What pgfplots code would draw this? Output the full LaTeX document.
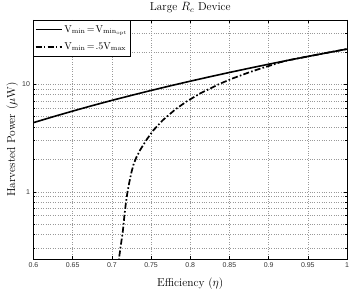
\documentclass[border=0pt]{standalone}
\usepackage{fontspec}
\usepackage{pgfplots}
\pgfplotsset{compat=1.18}
\newfontfamily\tickfont{Liberation Sans}

\begin{document}
\begin{tikzpicture}
\begin{axis}[
  scale only axis,
  width=313.5pt, height=239pt,
  xmin=0.6, xmax=1,
  ymode=log, ymin=0.237, ymax=39.5,
  xtick={0.6,0.65,0.7,0.75,0.8,0.85,0.9,0.95,1},
  xticklabels={0.6,0.65,0.7,0.75,0.8,0.85,0.9,0.95,1},
  ytick={1,10}, yticklabels={1,10},
  minor ytick={0.3,0.4,0.5,0.6,0.7,0.8,0.9,2,3,4,5,6,7,8,9,20,30},
  tick label style={font=\tickfont\fontsize{7}{8}\selectfont, text=black!80},
  /pgf/number format/assume math mode=true,
  tick align=inside,
  major tick length=3pt, minor tick length=1.8pt,
  tick style={black, line width=0.4pt},
  grid=both,
  major grid style={dotted, black!40, line width=0.45pt},
  minor grid style={dotted, black!40, line width=0.45pt},
  axis line style={black, line width=0.5pt},
  every axis title shift=0pt,
  title={Large $R_c$ Device},
  title style={at={(0.5,1)}, anchor=base, yshift=9pt, font=\fontsize{11.5}{13}\selectfont},
  xlabel={Efficiency ($\eta$)},
  xlabel style={at={(0.5,0)}, anchor=base, yshift=-27pt, font=\fontsize{11.5}{13}\selectfont},
  ylabel={Harvested Power ($\mu$W)},
  ylabel style={at={(axis description cs:-0.068,0.5)}, rotate=0, anchor=center, font=\fontsize{11.5}{13}\selectfont},
  legend style={at={(0,1)}, anchor=north west, draw=black, fill=white,
    font=\fontsize{10}{12}\selectfont, inner xsep=1pt, inner ysep=3pt, row sep=5pt},
  legend cell align=left,
  legend image code/.code={\draw[#1, line width=1.7pt] (0pt,0pt) -- (26pt,0pt);},
]
\addplot[black, line width=1.6pt] coordinates {
(0.60,4.39) (0.625,4.98) (0.65,5.62) (0.675,6.32) (0.70,7.07) (0.725,7.87)
(0.75,8.74) (0.775,9.67) (0.80,10.66) (0.825,11.72) (0.85,12.85) (0.875,14.05)
(0.90,15.33) (0.925,16.68) (0.95,18.10) (0.975,19.61) (1.00,21.20)
};
\addlegendentry{$\mathrm{V}_{\mathrm{min}}\!=\!\mathrm{V}_{\mathrm{min}_{\mathrm{opt}}}$}
\addplot[black, line width=1.7pt, dash pattern=on 6pt off 2.2pt on 1.6pt off 2.2pt] coordinates {
(0.7070,0.15) (0.7092,0.243) (0.7115,0.32) (0.714,0.43) (0.716,0.60) (0.718,0.80)
(0.720,1.00) (0.7225,1.25) (0.725,1.52) (0.7275,1.78) (0.731,2.07) (0.736,2.44) (0.745,3.10) (0.753,3.73)
(0.765,4.63) (0.781,5.83) (0.795,6.88) (0.8126,8.20) (0.8375,10.07) (0.855,11.38)
(0.8765,12.99) (0.890,14.0) (0.902,14.9) (0.915,16.0) (0.925,16.68) (0.95,18.10)
(0.975,19.61) (1.00,21.20)
};
\addlegendentry{$\mathrm{V}_{\mathrm{min}}\!=\!.5\mathrm{V}_{\mathrm{max}}$}
\end{axis}
\pgfresetboundingbox
\path ([shift={(-33.5pt,-33pt)}]current axis.south west) rectangle ([shift={(2pt,20pt)}]current axis.north east);
\end{tikzpicture}
\end{document}
